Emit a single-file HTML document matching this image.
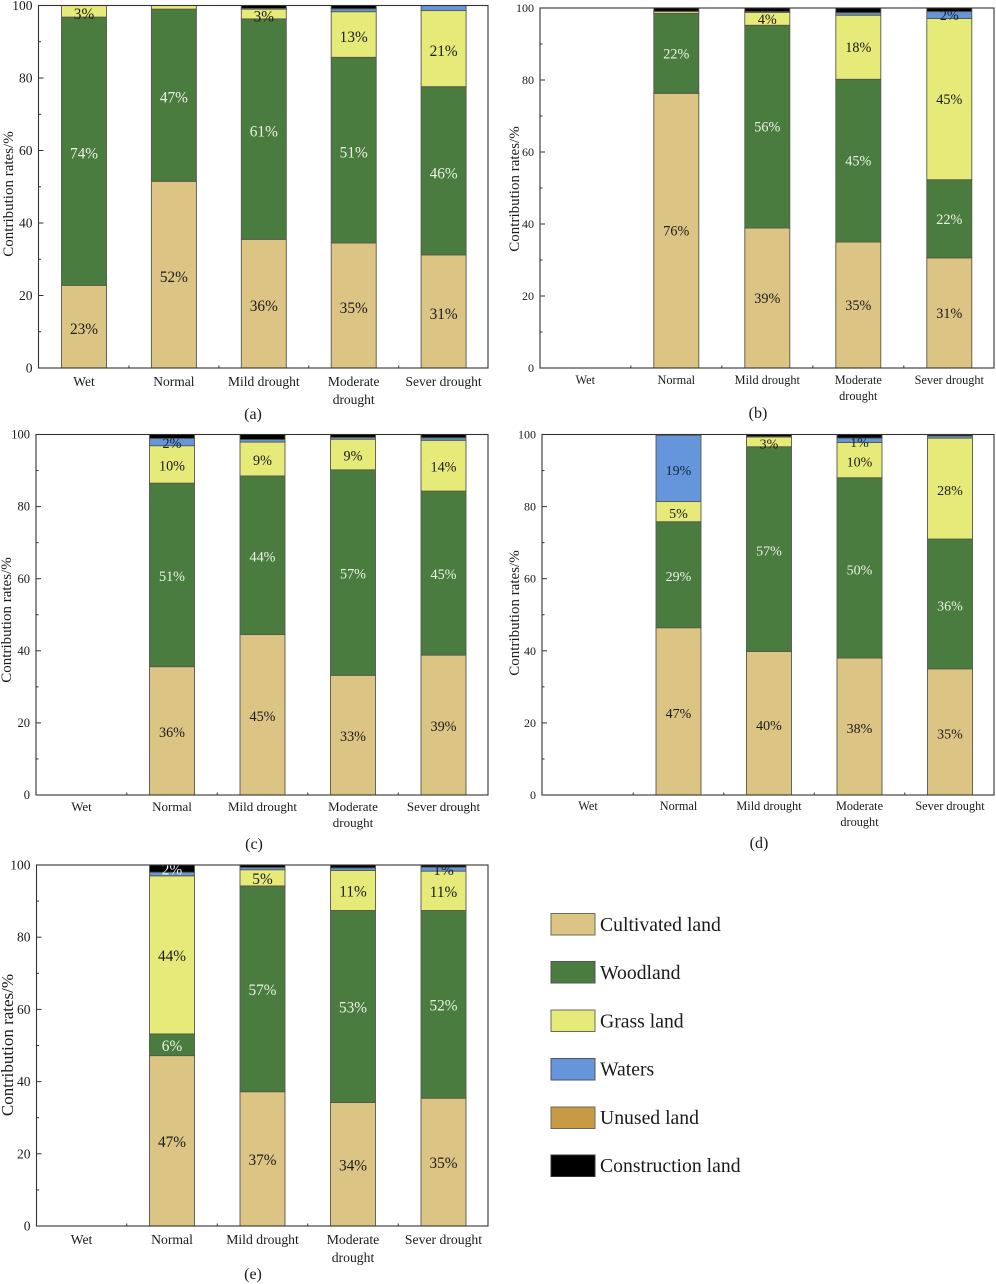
<!DOCTYPE html>
<html lang="en">
<head>
<meta charset="utf-8">
<title>Contribution rates by land type and drought level</title>
<style>
html,body{margin:0;padding:0;background:#fff;}
#figure{display:block;width:996px;height:1284px;font-family:"Liberation Serif",serif;fill:#1a1a1a;}
#figure text{font-family:"Liberation Serif",serif;}
</style>
</head>
<body>
<svg id="figure" xmlns="http://www.w3.org/2000/svg" width="996" height="1284" viewBox="0 0 996 1284">
  <g id="panel-a"></g>
  <g id="panel-b"></g>
  <g id="panel-c"></g>
  <g id="panel-d"></g>
  <g id="panel-e"></g>

  <text transform="translate(13,194) rotate(-90)" text-anchor="middle" font-size="15">Contribution rates/%</text>
  <text transform="translate(519,189) rotate(-90)" text-anchor="middle" font-size="15">Contribution rates/%</text>
  <text transform="translate(11,620) rotate(-90)" text-anchor="middle" font-size="15">Contribution rates/%</text>
  <text transform="translate(519,613) rotate(-90)" text-anchor="middle" font-size="15">Contribution rates/%</text>
  <text transform="translate(13,1045) rotate(-90)" text-anchor="middle" font-size="17">Contribution rates/%</text>

  <text x="253" y="419" text-anchor="middle" font-size="16">(a)</text>
  <text x="758" y="418" text-anchor="middle" font-size="16">(b)</text>
  <text x="254" y="849" text-anchor="middle" font-size="16">(c)</text>
  <text x="759" y="848" text-anchor="middle" font-size="16">(d)</text>
  <text x="253" y="1279" text-anchor="middle" font-size="16">(e)</text>

  <g font-size="19.7">
    <g>
      <rect x="551" y="913.5" width="44" height="21.5" fill="#dcc484" stroke="#6b6b5a" stroke-width="1"/>
      <text x="600" y="931">Cultivated land</text>
    </g>
    <g>
      <rect x="551" y="961.5" width="44" height="21.5" fill="#4a7c3f" stroke="#555" stroke-width="1"/>
      <text x="600" y="979">Woodland</text>
    </g>
    <g>
      <rect x="551" y="1010" width="44" height="21.5" fill="#e6ea78" stroke="#6b6b5a" stroke-width="1"/>
      <text x="600" y="1027.5">Grass land</text>
    </g>
    <g>
      <rect x="551" y="1058.5" width="44" height="21.5" fill="#6595db" stroke="#555" stroke-width="1"/>
      <text x="600" y="1075.5">Waters</text>
    </g>
    <g>
      <rect x="551" y="1107" width="44" height="21.5" fill="#c99a44" stroke="#6b6b5a" stroke-width="1"/>
      <text x="600" y="1124">Unused land</text>
    </g>
    <g>
      <rect x="551" y="1155" width="44" height="21.5" fill="#000" stroke="#333" stroke-width="1"/>
      <text x="600" y="1172">Construction land</text>
    </g>
  </g>
</svg>

<script>
const categories = ['Wet', 'Normal', 'Mild drought', 'Moderate drought', 'Sever drought'];
const landTypes = ['cultivated-land', 'woodland', 'grass-land', 'waters', 'unused-land', 'construction-land'];
const yTickLabels = [0, 20, 40, 60, 80, 100];
const yMinorTicks = [10, 30, 50, 70, 90];

const aCultivated = [22.8, 51.5, 35.5, 34.5, 31.2];
const aWoodland = [74, 47.5, 60.8, 51.2, 46.4];
const aGrass = [3.2, 1, 2.7, 12.6, 21];
const aWaters = [0, 0, 0.2, 0.8, 1.4];
const aUnused = [0, 0, 0, 0, 0];
const aConstruction = [0, 0, 0.8, 0.9, 0];
const aLabels = [['23%', '52%', '36%', '35%', '31%'], ['74%', '47%', '61%', '51%', '46%'], ['3%', '', '3%', '13%', '21%'], ['', '', '', '', ''], ['', '', '', '', ''], ['', '', '', '', '']];

const bCultivated = [0, 76.3, 38.9, 35, 30.6];
const bWoodland = [0, 22.2, 56.3, 45.2, 21.7];
const bGrass = [0, 0.5, 3.6, 17.8, 44.8];
const bWaters = [0, 0, 0.2, 0.7, 1.9];
const bUnused = [0, 0.1, 0, 0, 0];
const bConstruction = [0, 0.9, 1, 1.3, 1];
const bLabels = [['', '76%', '39%', '35%', '31%'], ['', '22%', '56%', '45%', '22%'], ['', '', '4%', '18%', '45%'], ['', '', '', '', '2%'], ['', '', '', '', ''], ['', '', '', '', '']];

const cCultivated = [0, 35.6, 44.5, 33.2, 38.8];
const cWoodland = [0, 50.9, 44, 57, 45.5];
const cGrass = [0, 10.4, 9.4, 8.5, 14.1];
const cWaters = [0, 2, 0.7, 0.5, 0.7];
const cUnused = [0, 0, 0, 0, 0];
const cConstruction = [0, 1.1, 1.4, 0.8, 0.9];
const cLabels = [['', '36%', '45%', '33%', '39%'], ['', '51%', '44%', '57%', '45%'], ['', '10%', '9%', '9%', '14%'], ['', '2%', '', '', ''], ['', '', '', '', ''], ['', '', '', '', '']];

const dCultivated = [0, 46.4, 39.8, 38, 35];
const dWoodland = [0, 29.4, 56.8, 50, 36];
const dGrass = [0, 5.6, 2.7, 9.8, 28];
const dWaters = [0, 18.4, 0.1, 1.2, 0.6];
const dUnused = [0, 0, 0, 0, 0];
const dConstruction = [0, 0.2, 0.6, 1, 0.4];
const dLabels = [['', '47%', '40%', '38%', '35%'], ['', '29%', '57%', '50%', '36%'], ['', '5%', '3%', '10%', '28%'], ['', '19%', '', '1%', ''], ['', '', '', '', ''], ['', '', '', '', '']];

const eCultivated = [0, 47.2, 37.2, 34.2, 35.4];
const eWoodland = [0, 6, 57, 53.2, 52];
const eGrass = [0, 43.8, 4.5, 11.1, 10.9];
const eWaters = [0, 1, 0.6, 0.7, 1.1];
const eUnused = [0, 0, 0, 0, 0];
const eConstruction = [0, 2, 0.7, 0.8, 0.6];
const eLabels = [['', '47%', '37%', '34%', '35%'], ['', '6%', '57%', '53%', '52%'], ['', '44%', '5%', '11%', '11%'], ['', '', '', '', '1%'], ['', '', '', '', ''], ['', '2%', '', '', '']];

const SVG_NS = 'http://www.w3.org/2000/svg';
const fills = ['#dcc484', '#4a7c3f', '#e6ea78', '#6595db', '#c99a44', '#000000'];
const labelInks = ['#1a1a1a', '#ecf2e6', '#1a1a1a', '#14233c', '#1a1a1a', '#ecf2f6'];

function svgEl(parent, tag, props) {
  const el = document.createElementNS(SVG_NS, tag);
  Object.keys(props).forEach(function (k) { el.setAttribute(k, props[k]); });
  parent.appendChild(el);
  return el;
}

function drawPanel(cfg) {
  const root = document.getElementById(cfg.id);
  const yScale = function (v) { return cfg.bottom - (v / 100) * (cfg.bottom - cfg.top); };
  const xScale = function (i) { return cfg.firstCenter + i * cfg.step; };

  // stacked bars
  categories.forEach(function (cat, i) {
    let base = 0;
    cfg.series.forEach(function (values, s) {
      const v = values[i];
      if (v > 0) {
        const rect = svgEl(root, 'rect', {
          x: xScale(i) - 22.5, y: yScale(base + v), width: 45,
          height: yScale(base) - yScale(base + v),
          fill: fills[s], stroke: '#56584a', 'stroke-width': 0.9
        });
        
        
      }
      base += v;
    });
  });

  // value labels
  categories.forEach(function (cat, i) {
    let base = 0;
    cfg.series.forEach(function (values, s) {
      const v = values[i];
      const printed = cfg.labels[s][i];
      if (printed) {
        const t = svgEl(root, 'text', {
          x: xScale(i), y: yScale(base + v / 2) + cfg.labelShift,
          'text-anchor': 'middle', 'font-size': cfg.valueFont, fill: labelInks[s]
        });
        t.textContent = printed;
        
        
      }
      base += v;
    });
  });

  // frame
  const frame = svgEl(root, 'rect', {
    x: cfg.left, y: cfg.top, width: cfg.right - cfg.left, height: cfg.bottom - cfg.top,
    fill: 'none', stroke: '#333', 'stroke-width': 1.1
  });
  
  

  // y ticks
  yTickLabels.forEach(function (v) {
    const y = yScale(v);
    const tick = svgEl(root, 'line', { x1: cfg.left, x2: cfg.left + 5, y1: y, y2: y, stroke: '#333', 'stroke-width': 1 });
    
    
    const t = svgEl(root, 'text', {
      x: cfg.left - 6, y: y + cfg.tickFont * 0.33,
      'text-anchor': 'end', 'font-size': cfg.tickFont
    });
    t.textContent = v;
    
    
  });
  yMinorTicks.forEach(function (v) {
    const y = yScale(v);
    const tick = svgEl(root, 'line', { x1: cfg.left, x2: cfg.left + 2.5, y1: y, y2: y, stroke: '#333', 'stroke-width': 1 });
    
    
  });

  // x ticks and category labels
  categories.forEach(function (cat, i) {
    if (i < categories.length - 1) {
      const xt = xScale(i) + cfg.step / 2;
      const tick = svgEl(root, 'line', { x1: xt, x2: xt, y1: cfg.bottom, y2: cfg.bottom - 2.5, stroke: '#333', 'stroke-width': 1 });
      
      
    }
    const lines = cat.length > 13 ? cat.split(' ') : [cat];
    lines.forEach(function (line, k) {
      const t = svgEl(root, 'text', {
        x: xScale(i), y: cfg.xLabelY + k * cfg.xLineGap,
        'text-anchor': 'middle', 'font-size': cfg.xFont
      });
      t.textContent = line;
      
      
    });
  });
}

drawPanel({ id: 'panel-a', key: 'a', left: 38.5, right: 488, top: 5.5, bottom: 368, firstCenter: 84, step: 89.9,
  tickFont: 13.5, xFont: 13.5, xLabelY: 386, xLineGap: 18, valueFont: 15.3, labelShift: 7.5,
  series: [aCultivated, aWoodland, aGrass, aWaters, aUnused, aConstruction], labels: aLabels });
drawPanel({ id: 'panel-b', key: 'b', left: 540, right: 994, top: 8, bottom: 368, firstCenter: 585.3, step: 91,
  tickFont: 12, xFont: 12.3, xLabelY: 384, xLineGap: 16, valueFont: 14.2, labelShift: 5,
  series: [bCultivated, bWoodland, bGrass, bWaters, bUnused, bConstruction], labels: bLabels });
drawPanel({ id: 'panel-c', key: 'c', left: 36, right: 488, top: 434.5, bottom: 795, firstCenter: 81.5, step: 90.5,
  tickFont: 12.5, xFont: 13, xLabelY: 811, xLineGap: 16, valueFont: 14.2, labelShift: 6,
  series: [cCultivated, cWoodland, cGrass, cWaters, cUnused, cConstruction], labels: cLabels });
drawPanel({ id: 'panel-d', key: 'd', left: 542, right: 994, top: 434.5, bottom: 795, firstCenter: 588, step: 90.5,
  tickFont: 12, xFont: 12.3, xLabelY: 810, xLineGap: 16, valueFont: 14, labelShift: 6.5,
  series: [dCultivated, dWoodland, dGrass, dWaters, dUnused, dConstruction], labels: dLabels });
drawPanel({ id: 'panel-e', key: 'e', left: 36.5, right: 488, top: 865, bottom: 1226, firstCenter: 81.5, step: 90.5,
  tickFont: 13.5, xFont: 13.7, xLabelY: 1244, xLineGap: 18, valueFont: 15.3, labelShift: 6,
  series: [eCultivated, eWoodland, eGrass, eWaters, eUnused, eConstruction], labels: eLabels });
</script>
</body>
</html>
